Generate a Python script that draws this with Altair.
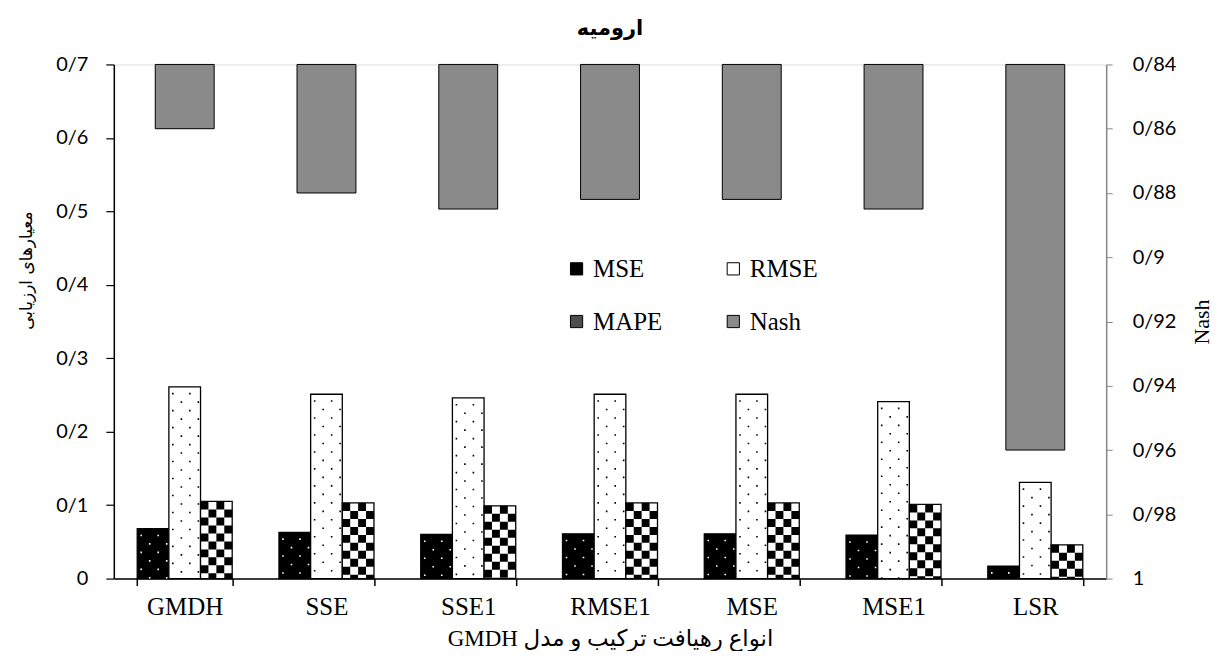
import altair as alt
import pandas as pd

cats = ["GMDH", "SSE", "SSE1", "RMSE1", "MSE", "MSE1", "LSR"]
series_names = ["MSE", "RMSE", "MAPE", "Nash"]
legend_order = ["MSE", "MAPE", "RMSE", "Nash"]
mse = [0.068, 0.063, 0.060, 0.061, 0.061, 0.059, 0.017]
rmse = [0.261, 0.251, 0.246, 0.251, 0.251, 0.241, 0.131]
mape = [0.105, 0.103, 0.099, 0.103, 0.103, 0.101, 0.046]
nash = [0.860, 0.880, 0.885, 0.882, 0.882, 0.885, 0.960]

left_ticks = [0, 0.1, 0.2, 0.3, 0.4, 0.5, 0.6, 0.7]
right_ticks = [0.84, 0.86, 0.88, 0.9, 0.92, 0.94, 0.96, 0.98, 1.0]

rows = []
for name, vals in (("MSE", mse), ("RMSE", rmse), ("MAPE", mape)):
    for c, v in zip(cats, vals):
        rows.append({"cat": c, "series": name, "value": v})
df = pd.DataFrame(rows)
ndf = pd.DataFrame({"cat": cats, "series": ["Nash"] * len(cats), "nash": nash})

label_expr = "replace(format(datum.value, '.2~f'), '.', '/')"

xaxis = alt.Axis(
    tickBand="extent", labelAngle=0, labelFont="Liberation Serif", labelFontSize=25,
    labelColor="black", domainColor="black", domainWidth=1.5, tickColor="black",
    tickWidth=1.5, tickSize=7, labelPadding=9, titleFont="Liberation Serif, DejaVu Sans",
    titleFontSize=23, titleFontWeight="normal", titleColor="black", titlePadding=8, grid=False,
)
xtitle = "\u202bانواع رهیافت ترکیب و مدل GMDH\u202c"

def X(bp=None):
    kw = dict(sort=cats, scale=alt.Scale(paddingInner=0.33, paddingOuter=0.165),
              axis=xaxis, title=xtitle)
    if bp is not None:
        kw["bandPosition"] = bp
    return alt.X("cat:N", **kw)

yaxis = alt.Axis(
    values=left_ticks, labelExpr=label_expr, labelFont="Lato", labelFontSize=20,
    labelColor="black", domainColor="black", domainWidth=1.5, tickColor="black",
    tickWidth=1.2, tickSize=8, labelPadding=18, grid=False, titleFont="DejaVu Sans",
    titleFontSize=17, titleFontWeight="normal", titleColor="black", titlePadding=20,
    titleY=206,
)
base_y = alt.Y("value:Q", scale=alt.Scale(domain=[0, 0.7], nice=False), axis=yaxis,
               title="معیارهای ارزیابی")

color_map = {"MSE": "black", "RMSE": "white", "MAPE": "#4d4d4d", "Nash": "#8a8a8a"}
color_enc = alt.Color(
    "series:N",
    scale=alt.Scale(domain=legend_order, range=[color_map[s] for s in legend_order]),
    legend=alt.Legend(
        orient="none", legendX=451, legendY=192, columns=2, title=None,
        symbolType="square", symbolSize=150, symbolStrokeColor="black",
        symbolStrokeWidth=1, labelFont="Liberation Serif", labelFontSize=25,
        labelColor="black", rowPadding=27, columnPadding=58, labelOffset=4,
    ),
)

bars = alt.Chart(df).mark_bar(stroke="black", strokeWidth=1.3).encode(
    x=X(),
    xOffset=alt.XOffset("series:N", sort=["MSE", "RMSE", "MAPE"],
                        scale=alt.Scale(paddingInner=0, paddingOuter=0)),
    y=base_y,
    color=alt.condition("datum.series == 'MAPE'", alt.value("white"), color_enc),
)

def rule_layer(series, bp, color, width, dash, offset):
    return alt.Chart(df).transform_filter(f"datum.series == '{series}'").mark_rule(
        color=color, strokeWidth=width, strokeDash=dash, strokeDashOffset=offset
    ).encode(x=X(bp), y=base_y, y2=alt.datum(0))

patterns = []
# checkerboard for MAPE
for k in range(4):
    bp = 2 / 3 + (2 * k + 1) / 24
    patterns.append(rule_layer("MAPE", bp, "black", 7.9, [8, 8], 0 if k % 2 == 0 else 8))
# dots for RMSE (black) and MSE (white)
bw = 1 / 3
for k, off in enumerate([4, 12.5, 21, 29.5]):
    frac = off / 95
    patterns.append(rule_layer("RMSE", bw + frac, "black", 1.6, [1.6, 15.4], -6 if k % 2 == 0 else -14.5))
    patterns.append(rule_layer("MSE", frac, "white", 1.6, [1.6, 15.4], -6 if k % 2 == 0 else -14.5))

left = alt.layer(bars, *patterns)

raxis = alt.Axis(
    orient="right", values=right_ticks, labelExpr=label_expr, labelFont="Lato",
    labelFontSize=20, labelColor="black", domainColor="#888888", domainWidth=1.5,
    tickColor="#888888", tickSize=6, labelPadding=20, grid=False,
    titleFont="Liberation Serif", titleFontSize=22, titleFontWeight="normal",
    titleColor="black", titlePadding=16, titleAngle=270, titleBaseline="top",
)
nash_chart = alt.Chart(ndf).mark_bar(stroke="black", strokeWidth=1, width=59).encode(
    x=X(),
    y=alt.Y("nash:Q", scale=alt.Scale(domain=[0.84, 1.0], reverse=True, nice=False),
            axis=raxis, title="Nash"),
    y2=alt.datum(0.84),
    color=color_enc,
)

chart = alt.layer(left, nash_chart).resolve_scale(y="independent").properties(
    width=994, height=515,
    padding={"top": 10, "left": 9, "right": 0, "bottom": 0},
    title=alt.TitleParams("ارومیه", font="DejaVu Sans", fontSize=21, fontWeight="bold",
                          color="black", offset=15, frame="group", anchor="middle"),
).configure_view(stroke="black", strokeWidth=1.8).configure(background="white")

chart.save("out.html", embed_options={"renderer": "svg", "actions": False})
